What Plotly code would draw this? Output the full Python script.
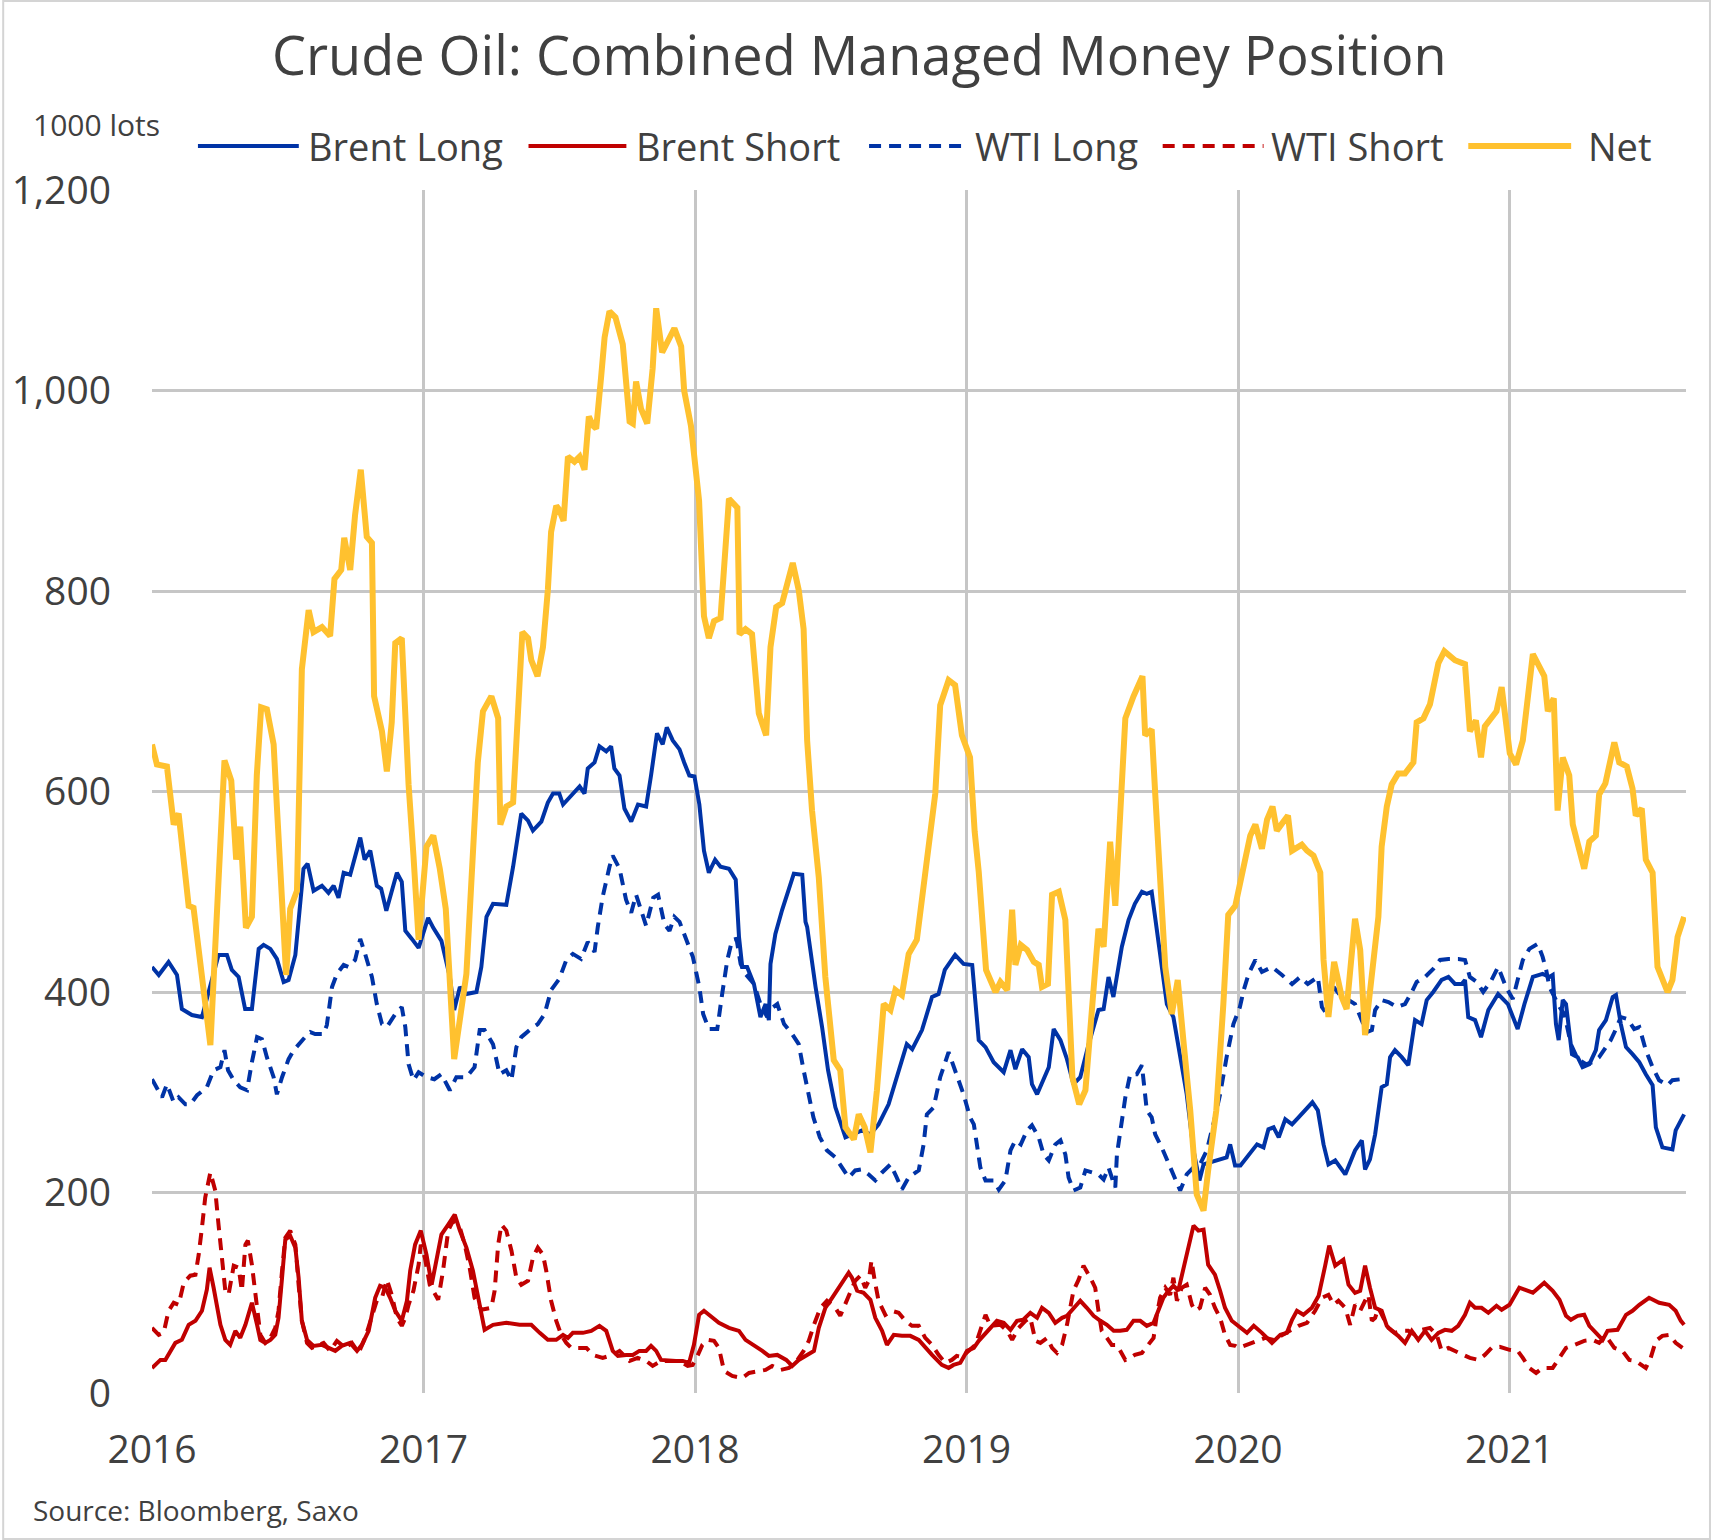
import plotly.graph_objects as go

# ---------------- data (1000 lots), x = decimal year ----------------
YEARS = [2016, 2017, 2018, 2019, 2020, 2021]
Y_TICKS = [0, 200, 400, 600, 800, 1000, 1200]
Y_TICK_TEXT = ["0", "200", "400", "600", "800", "1,000", "1,200"]

NET = [
    (2016.000, 647), (2016.018, 627), (2016.055, 625), (2016.080, 567), (2016.098, 578),
    (2016.123, 510), (2016.135, 486), (2016.153, 484), (2016.215, 347), (2016.267, 631),
    (2016.292, 611), (2016.310, 532), (2016.325, 565), (2016.346, 464), (2016.368, 475),
    (2016.386, 616), (2016.402, 684), (2016.423, 682), (2016.448, 647), (2016.460, 585),
    (2016.494, 417), (2016.509, 483), (2016.534, 501), (2016.552, 722), (2016.577, 781),
    (2016.595, 759), (2016.626, 764), (2016.656, 755), (2016.672, 812), (2016.697, 821),
    (2016.708, 853), (2016.730, 821), (2016.748, 876), (2016.769, 921), (2016.791, 854),
    (2016.810, 848), (2016.818, 695), (2016.847, 660), (2016.865, 620), (2016.883, 669),
    (2016.896, 748), (2016.920, 753), (2016.945, 607), (2016.963, 536), (2016.982, 452),
    (2017.011, 545), (2017.036, 556), (2017.060, 523), (2017.082, 483), (2017.113, 333),
    (2017.158, 418), (2017.200, 629), (2017.219, 680), (2017.250, 695), (2017.275, 673),
    (2017.283, 567), (2017.305, 585), (2017.330, 589), (2017.348, 682), (2017.364, 759),
    (2017.385, 753), (2017.397, 731), (2017.420, 715), (2017.440, 744), (2017.458, 801),
    (2017.470, 859), (2017.489, 885), (2017.500, 881), (2017.516, 870), (2017.532, 934),
    (2017.556, 929), (2017.575, 934), (2017.593, 921), (2017.609, 974), (2017.624, 965),
    (2017.636, 962), (2017.654, 1013), (2017.667, 1053), (2017.685, 1079), (2017.707, 1073),
    (2017.734, 1046), (2017.759, 969), (2017.771, 967), (2017.783, 1009), (2017.801, 982),
    (2017.824, 967), (2017.844, 1022), (2017.857, 1082), (2017.879, 1038), (2017.906, 1053),
    (2017.924, 1062), (2017.949, 1044), (2017.960, 1000), (2017.985, 965), (2018.015, 890),
    (2018.033, 775), (2018.051, 753), (2018.070, 770), (2018.094, 773), (2018.125, 892),
    (2018.156, 883), (2018.164, 757), (2018.186, 762), (2018.210, 757), (2018.235, 678),
    (2018.262, 656), (2018.278, 744), (2018.299, 784), (2018.321, 788), (2018.360, 828),
    (2018.382, 801), (2018.400, 762), (2018.413, 651), (2018.431, 581), (2018.456, 514),
    (2018.480, 415), (2018.511, 332), (2018.535, 322), (2018.554, 265), (2018.585, 253),
    (2018.603, 278), (2018.625, 265), (2018.646, 240), (2018.670, 302), (2018.695, 388),
    (2018.720, 382), (2018.738, 402), (2018.762, 397), (2018.787, 438), (2018.817, 452),
    (2018.848, 523), (2018.885, 598), (2018.903, 686), (2018.934, 711), (2018.958, 706),
    (2018.983, 656), (2019.013, 634), (2019.030, 560), (2019.045, 520), (2019.072, 422),
    (2019.107, 400), (2019.125, 410), (2019.150, 402), (2019.168, 482), (2019.180, 427),
    (2019.200, 447), (2019.223, 442), (2019.248, 430), (2019.266, 427), (2019.278, 405),
    (2019.300, 408), (2019.315, 497), (2019.340, 500), (2019.364, 472), (2019.390, 315),
    (2019.415, 288), (2019.438, 302), (2019.462, 382), (2019.486, 463), (2019.505, 445),
    (2019.529, 550), (2019.548, 486), (2019.572, 611), (2019.585, 673), (2019.615, 695),
    (2019.648, 715), (2019.658, 656), (2019.682, 662), (2019.695, 598), (2019.713, 514),
    (2019.732, 425), (2019.756, 378), (2019.778, 412), (2019.800, 348), (2019.824, 282),
    (2019.848, 198), (2019.873, 182), (2019.890, 222), (2019.920, 282), (2019.946, 388),
    (2019.964, 477), (2019.990, 486), (2020.015, 519), (2020.045, 556), (2020.064, 567),
    (2020.088, 543), (2020.107, 572), (2020.127, 585), (2020.143, 561), (2020.184, 576),
    (2020.199, 541), (2020.235, 547), (2020.254, 541), (2020.278, 536), (2020.303, 519),
    (2020.315, 432), (2020.333, 375), (2020.354, 430), (2020.382, 395), (2020.400, 383),
    (2020.431, 473), (2020.450, 442), (2020.468, 357), (2020.493, 415), (2020.517, 475),
    (2020.529, 545), (2020.548, 585), (2020.566, 607), (2020.590, 618), (2020.615, 618),
    (2020.646, 629), (2020.658, 669), (2020.683, 673), (2020.707, 687), (2020.725, 713),
    (2020.738, 728), (2020.760, 740), (2020.780, 735), (2020.799, 731), (2020.836, 727),
    (2020.854, 660), (2020.876, 671), (2020.895, 634), (2020.909, 665), (2020.952, 680),
    (2020.971, 704), (2020.983, 675), (2021.001, 638), (2021.024, 627), (2021.049, 651),
    (2021.086, 737), (2021.110, 726), (2021.128, 715), (2021.141, 680), (2021.163, 693),
    (2021.177, 581), (2021.196, 634), (2021.220, 616), (2021.233, 567), (2021.275, 523),
    (2021.294, 550), (2021.318, 556), (2021.330, 597), (2021.353, 608), (2021.386, 649),
    (2021.404, 629), (2021.432, 625), (2021.453, 603), (2021.465, 576), (2021.487, 583),
    (2021.502, 532), (2021.527, 519), (2021.545, 425), (2021.582, 400), (2021.600, 412),
    (2021.619, 455), (2021.643, 475),
]

BRENT_LONG = [
    (2016.000, 425), (2016.025, 417), (2016.061, 430), (2016.092, 417), (2016.110, 383),
    (2016.147, 377), (2016.184, 375), (2016.245, 437), (2016.276, 437), (2016.294, 422),
    (2016.319, 415), (2016.343, 383), (2016.368, 383), (2016.393, 443), (2016.411, 447),
    (2016.436, 443), (2016.460, 433), (2016.485, 410), (2016.503, 412), (2016.528, 437),
    (2016.558, 523), (2016.573, 528), (2016.595, 501), (2016.626, 506), (2016.650, 499),
    (2016.669, 506), (2016.687, 494), (2016.706, 519), (2016.730, 517), (2016.748, 536),
    (2016.767, 554), (2016.783, 532), (2016.804, 541), (2016.828, 506), (2016.844, 503),
    (2016.863, 481), (2016.902, 519), (2016.920, 510), (2016.933, 461), (2016.957, 453),
    (2016.982, 444), (2017.017, 474), (2017.036, 464), (2017.066, 451), (2017.097, 415),
    (2017.113, 382), (2017.134, 405), (2017.158, 398), (2017.195, 400), (2017.213, 425),
    (2017.232, 475), (2017.256, 488), (2017.305, 487), (2017.330, 525), (2017.360, 578),
    (2017.385, 571), (2017.403, 561), (2017.434, 570), (2017.458, 589), (2017.477, 598),
    (2017.500, 598), (2017.514, 587), (2017.538, 594), (2017.575, 605), (2017.593, 598),
    (2017.605, 623), (2017.630, 629), (2017.648, 645), (2017.673, 640), (2017.691, 645),
    (2017.703, 623), (2017.722, 616), (2017.740, 583), (2017.765, 570), (2017.790, 587),
    (2017.820, 585), (2017.838, 616), (2017.860, 658), (2017.881, 647), (2017.896, 664),
    (2017.918, 651), (2017.943, 642), (2017.960, 629), (2017.979, 616), (2017.998, 615),
    (2018.016, 587), (2018.033, 541), (2018.051, 519), (2018.074, 532), (2018.094, 525),
    (2018.125, 523), (2018.150, 512), (2018.162, 455), (2018.174, 425), (2018.192, 425),
    (2018.217, 408), (2018.241, 375), (2018.260, 388), (2018.272, 372), (2018.278, 428),
    (2018.296, 458), (2018.321, 482), (2018.364, 518), (2018.395, 517), (2018.407, 470),
    (2018.413, 465), (2018.444, 405), (2018.468, 365), (2018.490, 322), (2018.517, 285),
    (2018.554, 255), (2018.615, 262), (2018.646, 258), (2018.676, 268), (2018.713, 288),
    (2018.750, 322), (2018.780, 348), (2018.800, 343), (2018.836, 362), (2018.873, 395),
    (2018.897, 398), (2018.920, 422), (2018.958, 437), (2018.989, 428), (2019.021, 427),
    (2019.045, 352), (2019.070, 345), (2019.100, 330), (2019.137, 320), (2019.162, 342),
    (2019.180, 323), (2019.205, 343), (2019.229, 335), (2019.241, 308), (2019.260, 298),
    (2019.303, 325), (2019.321, 363), (2019.346, 352), (2019.370, 333), (2019.394, 308),
    (2019.419, 315), (2019.450, 348), (2019.486, 382), (2019.505, 383), (2019.523, 415),
    (2019.541, 395), (2019.554, 415), (2019.572, 445), (2019.597, 472), (2019.620, 488),
    (2019.646, 500), (2019.664, 498), (2019.682, 500), (2019.713, 435), (2019.738, 388),
    (2019.762, 375), (2019.811, 298), (2019.836, 242), (2019.858, 212), (2019.873, 228),
    (2019.897, 230), (2019.934, 233), (2019.958, 235), (2019.971, 248), (2019.989, 227),
    (2020.009, 227), (2020.039, 237), (2020.070, 248), (2020.094, 245), (2020.112, 263),
    (2020.131, 265), (2020.150, 255), (2020.174, 273), (2020.199, 268), (2020.223, 275),
    (2020.254, 285), (2020.274, 290), (2020.294, 282), (2020.315, 248), (2020.333, 228),
    (2020.358, 232), (2020.395, 218), (2020.431, 242), (2020.456, 252), (2020.468, 223),
    (2020.486, 233), (2020.505, 258), (2020.529, 305), (2020.548, 308), (2020.560, 335),
    (2020.578, 342), (2020.603, 335), (2020.627, 327), (2020.652, 372), (2020.676, 368),
    (2020.695, 392), (2020.719, 400), (2020.750, 412), (2020.775, 415), (2020.799, 408),
    (2020.824, 408), (2020.836, 412), (2020.848, 375), (2020.873, 372), (2020.895, 355),
    (2020.922, 382), (2020.958, 398), (2020.994, 388), (2021.030, 363), (2021.055, 388),
    (2021.086, 415), (2021.122, 418), (2021.147, 415), (2021.159, 417), (2021.171, 368),
    (2021.181, 352), (2021.196, 392), (2021.208, 388), (2021.230, 338), (2021.251, 335),
    (2021.269, 325), (2021.294, 328), (2021.318, 342), (2021.330, 362), (2021.355, 372),
    (2021.380, 395), (2021.392, 397), (2021.410, 368), (2021.429, 345), (2021.453, 338),
    (2021.478, 330), (2021.502, 318), (2021.527, 307), (2021.539, 265), (2021.563, 245),
    (2021.600, 243), (2021.612, 262), (2021.643, 278),
]

WTI_LONG = [
    (2016.000, 313), (2016.018, 305), (2016.037, 295), (2016.055, 308), (2016.080, 290),
    (2016.098, 295), (2016.123, 288), (2016.141, 288), (2016.166, 297), (2016.202, 305),
    (2016.227, 322), (2016.252, 325), (2016.267, 342), (2016.280, 322), (2016.301, 312),
    (2016.325, 305), (2016.350, 302), (2016.368, 330), (2016.387, 355), (2016.405, 353),
    (2016.423, 335), (2016.448, 315), (2016.460, 298), (2016.479, 315), (2016.503, 333),
    (2016.522, 342), (2016.540, 348), (2016.564, 355), (2016.583, 360), (2016.601, 358),
    (2016.632, 358), (2016.644, 367), (2016.663, 405), (2016.681, 418), (2016.706, 427),
    (2016.724, 425), (2016.748, 432), (2016.767, 453), (2016.785, 438), (2016.810, 415),
    (2016.828, 388), (2016.847, 368), (2016.865, 365), (2016.896, 378), (2016.920, 385),
    (2016.933, 365), (2016.945, 328), (2016.963, 312), (2016.982, 320), (2017.011, 315),
    (2017.040, 313), (2017.066, 318), (2017.097, 302), (2017.121, 315), (2017.158, 315),
    (2017.188, 325), (2017.207, 362), (2017.225, 362), (2017.256, 348), (2017.280, 318),
    (2017.305, 322), (2017.324, 312), (2017.342, 345), (2017.360, 355), (2017.390, 362),
    (2017.421, 368), (2017.446, 378), (2017.470, 402), (2017.500, 413), (2017.526, 432),
    (2017.550, 438), (2017.580, 433), (2017.605, 450), (2017.630, 440), (2017.642, 465),
    (2017.660, 495), (2017.685, 525), (2017.697, 536), (2017.722, 523), (2017.746, 492),
    (2017.765, 479), (2017.783, 497), (2017.820, 466), (2017.846, 494), (2017.864, 497),
    (2017.887, 468), (2017.906, 461), (2017.924, 475), (2017.943, 470), (2017.968, 453),
    (2017.992, 435), (2018.016, 405), (2018.030, 378), (2018.051, 363), (2018.082, 363),
    (2018.100, 398), (2018.119, 432), (2018.137, 452), (2018.153, 453), (2018.168, 428),
    (2018.186, 418), (2018.217, 408), (2018.241, 388), (2018.266, 375), (2018.278, 383),
    (2018.303, 388), (2018.328, 368), (2018.358, 358), (2018.382, 348), (2018.400, 322),
    (2018.419, 295), (2018.436, 275), (2018.460, 255), (2018.486, 242), (2018.517, 235),
    (2018.541, 225), (2018.566, 215), (2018.590, 222), (2018.615, 223), (2018.640, 218),
    (2018.664, 212), (2018.689, 220), (2018.720, 228), (2018.743, 215), (2018.762, 203),
    (2018.787, 215), (2018.824, 222), (2018.842, 248), (2018.854, 278), (2018.879, 285),
    (2018.903, 315), (2018.934, 340), (2018.958, 322), (2018.989, 298), (2019.013, 275),
    (2019.027, 268), (2019.051, 225), (2019.070, 212), (2019.100, 212), (2019.119, 203),
    (2019.143, 212), (2019.162, 242), (2019.180, 252), (2019.200, 248), (2019.223, 262),
    (2019.241, 267), (2019.266, 255), (2019.284, 238), (2019.303, 232), (2019.327, 248),
    (2019.346, 252), (2019.364, 238), (2019.376, 215), (2019.394, 202), (2019.419, 205),
    (2019.438, 222), (2019.462, 220), (2019.486, 218), (2019.505, 213), (2019.523, 225),
    (2019.535, 215), (2019.548, 205), (2019.554, 238), (2019.566, 262), (2019.585, 295),
    (2019.603, 318), (2019.627, 318), (2019.646, 327), (2019.664, 282), (2019.682, 275),
    (2019.695, 258), (2019.719, 245), (2019.750, 225), (2019.775, 208), (2019.787, 202),
    (2019.811, 218), (2019.836, 225), (2019.860, 228), (2019.885, 242), (2019.909, 268),
    (2019.934, 298), (2019.958, 335), (2019.983, 368), (2020.007, 385), (2020.021, 402),
    (2020.039, 418), (2020.064, 432), (2020.088, 420), (2020.125, 425), (2020.162, 417),
    (2020.199, 408), (2020.229, 415), (2020.257, 408), (2020.294, 415), (2020.309, 385),
    (2020.327, 378), (2020.352, 405), (2020.382, 395), (2020.407, 392), (2020.431, 388),
    (2020.450, 375), (2020.474, 360), (2020.493, 362), (2020.505, 382), (2020.529, 392),
    (2020.554, 390), (2020.585, 385), (2020.615, 388), (2020.640, 400), (2020.658, 410),
    (2020.689, 415), (2020.719, 423), (2020.744, 432), (2020.775, 433), (2020.811, 433),
    (2020.836, 432), (2020.854, 415), (2020.879, 410), (2020.903, 400), (2020.934, 412),
    (2020.958, 425), (2020.987, 405), (2021.012, 393), (2021.030, 412), (2021.049, 432),
    (2021.073, 443), (2021.104, 448), (2021.122, 435), (2021.135, 422), (2021.147, 405),
    (2021.184, 385), (2021.202, 378), (2021.226, 348), (2021.251, 333), (2021.282, 328),
    (2021.306, 330), (2021.330, 335), (2021.355, 345), (2021.373, 352), (2021.392, 363),
    (2021.410, 375), (2021.435, 373), (2021.459, 363), (2021.478, 365), (2021.502, 342),
    (2021.527, 325), (2021.551, 312), (2021.582, 307), (2021.600, 312), (2021.631, 313),
    (2021.643, 312),
]

BRENT_SHORT = [
    (2016.000, 25), (2016.031, 33), (2016.049, 33), (2016.067, 42), (2016.086, 50),
    (2016.110, 53), (2016.135, 68), (2016.160, 72), (2016.184, 82), (2016.202, 103),
    (2016.212, 125), (2016.227, 105), (2016.252, 68), (2016.270, 53), (2016.288, 48),
    (2016.307, 62), (2016.325, 55), (2016.344, 68), (2016.368, 90), (2016.387, 68),
    (2016.399, 53), (2016.417, 50), (2016.436, 53), (2016.454, 58), (2016.466, 75),
    (2016.479, 115), (2016.491, 153), (2016.509, 157), (2016.528, 145), (2016.540, 115),
    (2016.552, 72), (2016.571, 53), (2016.595, 47), (2016.626, 48), (2016.650, 45),
    (2016.675, 42), (2016.699, 47), (2016.730, 50), (2016.755, 42), (2016.773, 48),
    (2016.798, 62), (2016.822, 95), (2016.840, 107), (2016.859, 105), (2016.877, 95),
    (2016.896, 82), (2016.920, 72), (2016.939, 92), (2016.951, 122), (2016.969, 148),
    (2016.990, 162), (2017.011, 138), (2017.030, 108), (2017.048, 132), (2017.066, 158),
    (2017.091, 168), (2017.115, 178), (2017.134, 162), (2017.158, 145), (2017.182, 122),
    (2017.200, 95), (2017.225, 63), (2017.256, 68), (2017.305, 70), (2017.354, 68),
    (2017.397, 68), (2017.428, 60), (2017.458, 53), (2017.489, 53), (2017.514, 58),
    (2017.532, 55), (2017.550, 60), (2017.587, 60), (2017.618, 62), (2017.648, 67),
    (2017.673, 62), (2017.697, 42), (2017.716, 37), (2017.746, 38), (2017.771, 38),
    (2017.795, 42), (2017.820, 42), (2017.838, 47), (2017.857, 42), (2017.875, 33),
    (2017.906, 32), (2017.930, 32), (2017.955, 32), (2017.978, 30), (2017.996, 48),
    (2018.015, 78), (2018.033, 82), (2018.058, 77), (2018.088, 70), (2018.125, 65),
    (2018.162, 62), (2018.186, 53), (2018.217, 48), (2018.248, 42), (2018.272, 37),
    (2018.303, 38), (2018.336, 33), (2018.358, 27), (2018.382, 33), (2018.413, 38),
    (2018.438, 42), (2018.456, 65), (2018.480, 85), (2018.505, 95), (2018.523, 102),
    (2018.548, 112), (2018.566, 120), (2018.578, 115), (2018.597, 102), (2018.621, 100),
    (2018.646, 93), (2018.664, 75), (2018.689, 62), (2018.707, 48), (2018.732, 58),
    (2018.762, 57), (2018.793, 57), (2018.824, 53), (2018.842, 47), (2018.873, 38),
    (2018.909, 28), (2018.934, 25), (2018.952, 28), (2018.977, 30), (2019.002, 42),
    (2019.027, 45), (2019.045, 52), (2019.070, 60), (2019.094, 67), (2019.112, 72),
    (2019.137, 70), (2019.162, 63), (2019.186, 72), (2019.208, 73), (2019.235, 80),
    (2019.260, 75), (2019.278, 85), (2019.303, 80), (2019.327, 70), (2019.352, 75),
    (2019.370, 77), (2019.394, 85), (2019.419, 92), (2019.443, 85), (2019.468, 77),
    (2019.493, 72), (2019.517, 68), (2019.542, 62), (2019.566, 62), (2019.590, 63),
    (2019.615, 72), (2019.640, 72), (2019.664, 67), (2019.689, 70), (2019.707, 82),
    (2019.725, 95), (2019.744, 102), (2019.762, 107), (2019.780, 102), (2019.797, 122),
    (2019.817, 148), (2019.836, 167), (2019.854, 162), (2019.873, 163), (2019.890, 128),
    (2019.915, 118), (2019.934, 102), (2019.952, 85), (2019.977, 72), (2020.002, 67),
    (2020.033, 60), (2020.058, 67), (2020.088, 60), (2020.125, 50), (2020.156, 58),
    (2020.180, 60), (2020.199, 73), (2020.217, 82), (2020.241, 78), (2020.272, 85),
    (2020.297, 97), (2020.321, 127), (2020.336, 147), (2020.358, 127), (2020.388, 133),
    (2020.407, 108), (2020.431, 100), (2020.450, 102), (2020.468, 127), (2020.486, 105),
    (2020.505, 85), (2020.529, 82), (2020.548, 67), (2020.566, 62), (2020.590, 57),
    (2020.615, 50), (2020.640, 62), (2020.664, 53), (2020.689, 62), (2020.713, 53),
    (2020.738, 60), (2020.762, 63), (2020.787, 62), (2020.811, 67), (2020.836, 78),
    (2020.854, 90), (2020.873, 85), (2020.897, 85), (2020.922, 80), (2020.952, 87),
    (2020.971, 83), (2021.000, 88), (2021.036, 105), (2021.086, 100), (2021.128, 110),
    (2021.159, 102), (2021.184, 93), (2021.208, 77), (2021.226, 73), (2021.251, 77),
    (2021.275, 78), (2021.294, 67), (2021.318, 60), (2021.343, 53), (2021.361, 62),
    (2021.398, 63), (2021.429, 78), (2021.453, 82), (2021.478, 88), (2021.514, 95),
    (2021.551, 90), (2021.588, 88), (2021.612, 82), (2021.631, 72), (2021.643, 68),
]

WTI_SHORT = [
    (2016.000, 65), (2016.025, 58), (2016.043, 60), (2016.061, 82), (2016.080, 90),
    (2016.098, 88), (2016.117, 110), (2016.141, 117), (2016.160, 118), (2016.172, 138),
    (2016.184, 165), (2016.196, 195), (2016.215, 220), (2016.233, 202), (2016.245, 168),
    (2016.258, 138), (2016.270, 102), (2016.282, 98), (2016.301, 127), (2016.319, 125),
    (2016.331, 102), (2016.344, 148), (2016.353, 152), (2016.368, 128), (2016.387, 82),
    (2016.399, 58), (2016.417, 50), (2016.436, 55), (2016.454, 65), (2016.466, 82),
    (2016.479, 122), (2016.491, 155), (2016.509, 162), (2016.528, 148), (2016.540, 108),
    (2016.552, 72), (2016.571, 50), (2016.589, 45), (2016.632, 50), (2016.656, 42),
    (2016.681, 52), (2016.712, 45), (2016.736, 50), (2016.761, 40), (2016.785, 55),
    (2016.810, 75), (2016.828, 92), (2016.847, 95), (2016.865, 113), (2016.883, 98),
    (2016.902, 75), (2016.920, 67), (2016.933, 75), (2016.945, 88), (2016.963, 102),
    (2016.982, 128), (2016.990, 148), (2017.005, 135), (2017.023, 108), (2017.054, 93),
    (2017.072, 122), (2017.091, 162), (2017.109, 172), (2017.134, 165), (2017.152, 148),
    (2017.170, 125), (2017.188, 95), (2017.213, 83), (2017.250, 85), (2017.262, 102),
    (2017.275, 148), (2017.287, 168), (2017.305, 162), (2017.324, 142), (2017.342, 115),
    (2017.360, 108), (2017.385, 112), (2017.403, 135), (2017.421, 145), (2017.440, 138),
    (2017.452, 122), (2017.470, 92), (2017.489, 72), (2017.507, 58), (2017.526, 50),
    (2017.544, 45), (2017.575, 45), (2017.600, 45), (2017.624, 38), (2017.660, 35),
    (2017.697, 38), (2017.722, 42), (2017.759, 32), (2017.789, 35), (2017.820, 32),
    (2017.844, 27), (2017.875, 32), (2017.912, 32), (2017.942, 32), (2017.973, 27),
    (2017.991, 28), (2018.009, 37), (2018.027, 48), (2018.045, 53), (2018.070, 52),
    (2018.088, 45), (2018.107, 22), (2018.137, 17), (2018.174, 15), (2018.199, 20),
    (2018.235, 22), (2018.260, 23), (2018.284, 27), (2018.315, 23), (2018.346, 25),
    (2018.370, 30), (2018.400, 42), (2018.419, 52), (2018.438, 68), (2018.462, 85),
    (2018.486, 92), (2018.517, 85), (2018.535, 77), (2018.554, 90), (2018.572, 102),
    (2018.590, 112), (2018.609, 117), (2018.627, 105), (2018.640, 112), (2018.650, 132),
    (2018.662, 112), (2018.676, 92), (2018.701, 78), (2018.725, 82), (2018.750, 80),
    (2018.775, 72), (2018.799, 67), (2018.824, 67), (2018.848, 55), (2018.873, 48),
    (2018.897, 38), (2018.922, 30), (2018.946, 33), (2018.964, 37), (2018.983, 36),
    (2019.009, 42), (2019.033, 48), (2019.070, 78), (2019.088, 67), (2019.125, 68),
    (2019.150, 62), (2019.168, 53), (2019.192, 65), (2019.217, 72), (2019.235, 75),
    (2019.254, 52), (2019.272, 50), (2019.297, 55), (2019.315, 45), (2019.333, 40),
    (2019.352, 48), (2019.370, 68), (2019.394, 102), (2019.413, 113), (2019.431, 127),
    (2019.456, 115), (2019.474, 105), (2019.486, 82), (2019.498, 62), (2019.517, 55),
    (2019.535, 48), (2019.554, 48), (2019.566, 42), (2019.585, 33), (2019.603, 35),
    (2019.620, 38), (2019.646, 40), (2019.670, 48), (2019.689, 55), (2019.701, 78),
    (2019.713, 95), (2019.732, 105), (2019.750, 98), (2019.762, 115), (2019.775, 92),
    (2019.793, 105), (2019.811, 108), (2019.830, 88), (2019.842, 82), (2019.860, 85),
    (2019.879, 105), (2019.897, 98), (2019.915, 85), (2019.934, 75), (2019.952, 58),
    (2019.971, 48), (2019.990, 47), (2020.002, 45), (2020.033, 48), (2020.070, 52),
    (2020.100, 55), (2020.131, 53), (2020.162, 58), (2020.192, 63), (2020.223, 67),
    (2020.254, 70), (2020.284, 82), (2020.309, 95), (2020.333, 98), (2020.352, 88),
    (2020.370, 92), (2020.395, 85), (2020.413, 68), (2020.431, 88), (2020.450, 82),
    (2020.468, 92), (2020.480, 98), (2020.493, 72), (2020.505, 75), (2020.517, 85),
    (2020.535, 75), (2020.554, 65), (2020.578, 60), (2020.603, 62), (2020.627, 62),
    (2020.652, 58), (2020.676, 63), (2020.707, 65), (2020.732, 58), (2020.750, 42),
    (2020.775, 45), (2020.799, 42), (2020.824, 38), (2020.854, 35), (2020.885, 33),
    (2020.909, 38), (2020.934, 45), (2020.964, 46), (2021.000, 43), (2021.030, 42),
    (2021.049, 35), (2021.073, 25), (2021.098, 20), (2021.122, 25), (2021.159, 25),
    (2021.184, 35), (2021.208, 45), (2021.239, 48), (2021.275, 52), (2021.306, 53),
    (2021.330, 50), (2021.355, 57), (2021.386, 45), (2021.416, 42), (2021.441, 33),
    (2021.465, 32), (2021.502, 25), (2021.520, 35), (2021.539, 52), (2021.563, 57),
    (2021.588, 58), (2021.612, 50), (2021.637, 45),
]

SERIES_NAMES = ["Brent Long", "Brent Short", "WTI Long", "WTI Short", "Net"]

# ---------------- styling / layout ----------------
W, H = 1711, 1540
ML, MR, MT, MB = 150, 25, 190, 147
PW, PH = W - ML - MR, H - MT - MB
FONT = "Open Sans"
TXT = "#404040"
GRID = "#c6c6c6"
BLUE, RED, GOLD = "#0033A6", "#C00000", "#FFC12F"
DASH = "12px,8px"


def px(x):
    return (x - ML) / PW


def py(y):
    return (H - MB - y) / PH


styles = {
    "Brent Long": dict(color=BLUE, width=4, dash="solid"),
    "Brent Short": dict(color=RED, width=4, dash="solid"),
    "WTI Long": dict(color=BLUE, width=4, dash=DASH),
    "WTI Short": dict(color=RED, width=4, dash=DASH),
    "Net": dict(color=GOLD, width=6, dash="solid"),
}
data_map = {
    "Brent Long": BRENT_LONG,
    "Brent Short": BRENT_SHORT,
    "WTI Long": WTI_LONG,
    "WTI Short": WTI_SHORT,
    "Net": NET,
}

fig = go.Figure()
for name in ["WTI Short", "Brent Short", "WTI Long", "Brent Long", "Net"]:
    pts = data_map[name]
    fig.add_trace(go.Scatter(
        x=[p[0] for p in pts], y=[p[1] for p in pts], mode="lines", name=name,
        line=styles[name], showlegend=False, hoverinfo="skip",
    ))

shapes = []
annotations = []

# custom legend
legend_items = [
    ("Brent Long", 196, 297, 304),
    ("Brent Short", 527, 625, 633),
    ("WTI Long", 868, 966, 972),
    ("WTI Short", 1162, 1263, 1268),
    ("Net", 1468, 1571, 1586),
]
LEG_Y = 146
for name, x0, x1, xt in legend_items:
    st = styles[name]
    shapes.append(dict(type="line", xref="paper", yref="paper",
                       x0=px(x0), x1=px(x1), y0=py(LEG_Y), y1=py(LEG_Y),
                       line=dict(color=st["color"], width=st["width"], dash=st["dash"])))
    annotations.append(dict(text=name, xref="paper", yref="paper", x=px(xt), y=py(LEG_Y),
                            xanchor="left", yanchor="middle", showarrow=False,
                            font=dict(family=FONT, size=38, color=TXT)))

annotations.append(dict(text="Crude Oil: Combined Managed Money Position", xref="paper", yref="paper",
                        x=px(858), y=py(54), xanchor="center", yanchor="middle", showarrow=False,
                        font=dict(family=FONT, size=54, color=TXT)))
annotations.append(dict(text="1000 lots", xref="paper", yref="paper", x=px(29), y=py(124),
                        xanchor="left", yanchor="middle", showarrow=False,
                        font=dict(family=FONT, size=30, color=TXT)))
annotations.append(dict(text="Source: Bloomberg, Saxo", xref="paper", yref="paper", x=px(29), y=py(1510),
                        xanchor="left", yanchor="middle", showarrow=False,
                        font=dict(family=FONT, size=28, color=TXT)))

# outer frame
shapes.append(dict(type="rect", xref="paper", yref="paper", layer="below",
                   x0=px(1), x1=px(W - 1), y0=py(H - 1), y1=py(1),
                   line=dict(color="#d4d4d4", width=2)))

fig.update_layout(
    width=W, height=H,
    margin=dict(l=ML, r=MR, t=MT, b=MB),
    paper_bgcolor="white", plot_bgcolor="white",
    showlegend=False,
    font=dict(family=FONT, color=TXT),
    shapes=shapes, annotations=annotations,
    xaxis=dict(range=[2016, 2021.65], tickvals=YEARS, ticktext=[str(y) for y in YEARS],
               showgrid=True, gridcolor=GRID, gridwidth=2.5, zeroline=False, showline=False,
               ticks="", tickfont=dict(family=FONT, size=39, color=TXT), ticklabelstandoff=30),
    yaxis=dict(range=[0, 1200], tickvals=Y_TICKS, ticktext=Y_TICK_TEXT,
               showgrid=True, gridcolor=GRID, gridwidth=2.5, zeroline=False, showline=False,
               ticks="", tickfont=dict(family=FONT, size=39, color=TXT), ticklabelstandoff=40),
)

fig.write_html("out.html", config={"displayModeBar": False},
               post_script="document.body.style.margin='0';document.body.style.overflow='hidden';")
